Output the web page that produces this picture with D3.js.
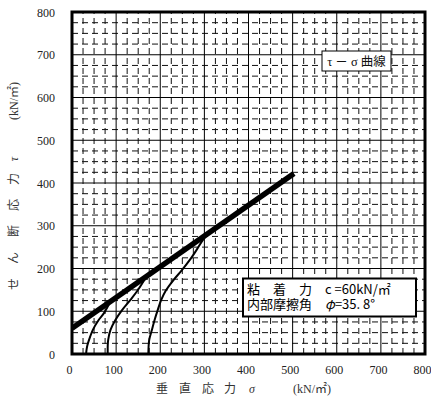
<!DOCTYPE html>
<html><head><meta charset="utf-8">
<script src="https://cdn.jsdelivr.net/npm/d3@7/dist/d3.min.js"></script>
<style>body{margin:0;background:#fff}</style>
</head><body>
<svg id="chart" width="431" height="400"></svg>
<script>
// ---- data ----
const xTickValues = [0,100,200,300,400,500,600,700,800];
const yTickValues = [0,100,200,300,400,500,600,700,800];
const envelopeSigma = [0, 503];
const envelopeTau   = [60, 422];
const path1Sigma = [32, 33, 35, 41, 47, 60, 72, 84];
const path1Tau   = [0, 10, 21, 40, 56, 79, 95, 117];
const path2Sigma = [81, 81, 82, 87, 98, 113, 132, 149, 168];
const path2Tau   = [0, 20, 33, 56, 79, 102, 126, 149, 180];
const path3Sigma = [173, 175, 181, 187, 194, 202, 213, 230, 249, 267, 282, 296, 312];
const path3Tau   = [0, 33, 56, 79, 102, 126, 149, 173, 196, 220, 243, 266, 285];
const curveLabel = "τ － σ 曲線";
const legendLine1 = "粘　着　力　c =60kN/㎡";
const legendLine2a = "内部摩擦角　";
const legendLine2b = "φ";
const legendLine2c = "=35. 8°";
const xTitleParts = ["垂","直","応","力","σ","(kN/㎡)"];
const yTitleParts = ["せ","ん","断","応","力","τ","(kN/㎡)"];

// ---- layout ----
const svg = d3.select("#chart");
const L = 72, R = 425, T = 12, B = 354;
const x = d3.scaleLinear().domain([0,800]).range([L,R]);
const y = d3.scaleLinear().domain([0,800]).range([B,T]);
const serif = "'Liberation Serif','Noto Sans CJK JP',serif";
const cjk = "'Noto Sans CJK JP',sans-serif";

svg.append("defs").append("clipPath").attr("id","clip")
  .append("rect").attr("x",L).attr("y",T).attr("width",R-L).attr("height",B-T);

const minor = d3.range(25,800,25).filter(v => v % 100 !== 0);
const grid = svg.append("g");
// minor dashed grid
grid.selectAll("line.mv").data(minor).join("line").attr("class","mv")
  .attr("x1",d=>x(d)).attr("x2",d=>x(d)).attr("y1",B).attr("y2",T)
  .attr("stroke","#111").attr("stroke-width",1).attr("stroke-dasharray","6,4");
grid.selectAll("line.mh").data(minor).join("line").attr("class","mh")
  .attr("y1",d=>y(d)).attr("y2",d=>y(d)).attr("x1",L).attr("x2",R)
  .attr("stroke","#111").attr("stroke-width",1).attr("stroke-dasharray","6,4");
// major grid
grid.selectAll("line.Mv").data(xTickValues.slice(1,-1)).join("line").attr("class","Mv")
  .attr("x1",d=>x(d)).attr("x2",d=>x(d)).attr("y1",B).attr("y2",T)
  .attr("stroke","#000").attr("stroke-width",1);
grid.selectAll("line.Mh").data(yTickValues.slice(1,-1)).join("line").attr("class","Mh")
  .attr("y1",d=>y(d)).attr("y2",d=>y(d)).attr("x1",L).attr("x2",R)
  .attr("stroke","#000").attr("stroke-width",1);

// curves
const plot = svg.append("g").attr("clip-path","url(#clip)");
const line = d3.line().x(d=>x(d[0])).y(d=>y(d[1])).curve(d3.curveCatmullRom.alpha(0.5));
[[path1Sigma,path1Tau],[path2Sigma,path2Tau],[path3Sigma,path3Tau]].forEach(([s,t])=>{
  plot.append("path").datum(s.map((v,i)=>[v,t[i]]))
    .attr("d",line).attr("fill","none").attr("stroke","#000").attr("stroke-width",2);
});
plot.append("path").datum(envelopeSigma.map((v,i)=>[v,envelopeTau[i]]))
  .attr("d",d3.line().x(d=>x(d[0])).y(d=>y(d[1])))
  .attr("fill","none").attr("stroke","#000").attr("stroke-width",5.5);

// border
svg.append("rect").attr("x",L).attr("y",T).attr("width",R-L).attr("height",B-T)
  .attr("fill","none").attr("stroke","#000").attr("stroke-width",3);

// axes (labels only)
const xAxis = d3.axisBottom(x).tickValues(xTickValues).tickSize(0).tickPadding(0);
const gx = svg.append("g").attr("transform",`translate(-3,${B})`).call(xAxis);
gx.select(".domain").remove();
gx.attr("font-family",serif).attr("font-size",12);
gx.selectAll("text").attr("y",20).attr("dy",0).attr("fill","#222");
const yAxis = d3.axisLeft(y).tickValues(yTickValues).tickSize(0).tickPadding(0);
const gy = svg.append("g").attr("transform",`translate(55,0)`).call(yAxis);
gy.select(".domain").remove();
gy.attr("font-family",serif).attr("font-size",12);
gy.selectAll("text").attr("x",0).attr("dy","0.35em").attr("fill","#222");

// x title
const xt = svg.append("text").attr("y",393).attr("font-size",12).attr("fill","#333");
const xPos = [162,185,208,230,252,312];
xTitleParts.forEach((p,i)=>{
  xt.append("tspan").attr("x",xPos[i]).attr("text-anchor","middle")
    .attr("font-family", i<4 ? cjk : serif)
    .attr("font-style", p==="σ" ? "italic" : "normal").text(p);
});
// y title
const yt = svg.append("text").attr("transform","translate(18,0) rotate(-90)").attr("font-size",12).attr("fill","#333");
const yPos = [284,258,231,205,179,159,101];
yTitleParts.forEach((p,i)=>{
  yt.append("tspan").attr("x",-yPos[i]).attr("text-anchor","middle")
    .attr("font-family", i<5 ? cjk : serif)
    .attr("font-style", p==="τ" ? "italic" : "normal").text(p);
});

// curve label box
svg.append("rect").attr("x",322).attr("y",51).attr("width",69).attr("height",20)
  .attr("fill","#fff").attr("stroke","#000").attr("stroke-width",1);
svg.append("text").attr("x",356.5).attr("y",65.5).attr("text-anchor","middle")
  .attr("font-family",serif).attr("font-size",12.5).attr("fill","#111").text(curveLabel);

// legend box
svg.append("rect").attr("x",243).attr("y",278.5).attr("width",173).attr("height",38)
  .attr("fill","#fff").attr("stroke","#000").attr("stroke-width",2);
svg.append("text").attr("x",247).attr("y",294).attr("font-family",cjk).attr("font-size",13)
  .attr("fill","#000").attr("xml:space","preserve").text(legendLine1);
const l2 = svg.append("text").attr("x",247).attr("y",309).attr("font-family",cjk).attr("font-size",13)
  .attr("fill","#000").attr("xml:space","preserve");
l2.append("tspan").text(legendLine2a);
l2.append("tspan").attr("font-style","italic").text(legendLine2b);
l2.append("tspan").text(legendLine2c);
</script>
</body></html>
